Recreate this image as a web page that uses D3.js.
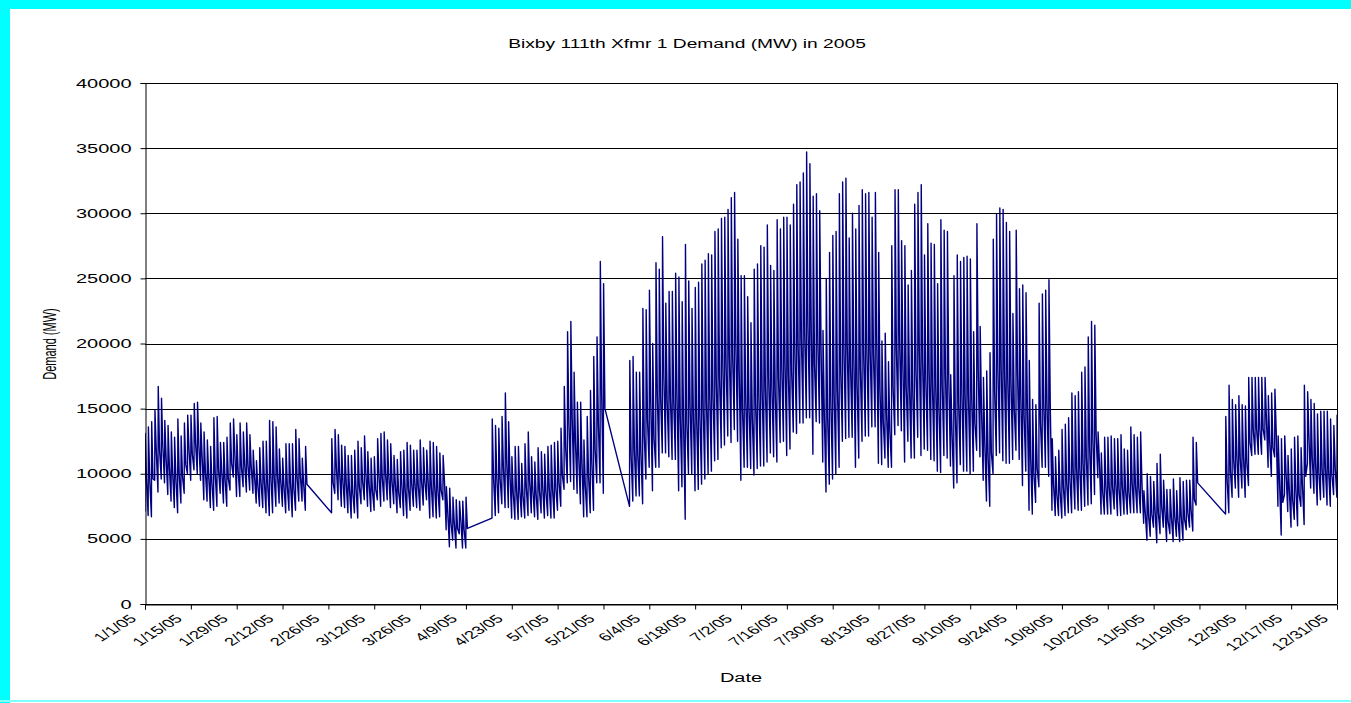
<!DOCTYPE html>
<html>
<head>
<meta charset="utf-8">
<script src="https://cdn.jsdelivr.net/npm/d3@7"></script>
<style>
  body { margin: 0; background: #fff; }
  svg text { font-family: "Liberation Sans", Arial, sans-serif; fill: #000; }
</style>
</head>
<body>
<div id="chart"></div>
<script>
// first day of each block of readings (the days between blocks are missing)
const segStart = ["2005-01-01", "2005-02-27", "2005-04-17", "2005-05-29", "2005-11-27"];

// daily peak demand (MW), one list per block
const dayHigh = [
  [13100,13600,14000,14900,16700,15800,14100,13700,13200,12800,14200,12900,13900,14500,14500,15400,15500,13900,13200,12600,
   12100,14300,14400,12400,12400,12800,13900,14200,13000,13900,13200,13900,13000,11800,11000,12000,12500,12500,14100,14000,
   13600,11900,11200,12300,12300,12300,13400,12700,11200,12100],
  [12700,13400,13000,12200,12100,11400,11400,11800,12500,12000,12900,11700,11200,11300,12700,13100,13200,12600,12300,11400,
   11100,11700,11800,12400,12200,11800,11800,12600,12000,11800,12500,12400,12100,11600,11400,9000,8900,8200,8000,7900,
   7900,8200],
  [14200,13700,13500,14400,16200,14000,11300,12100,12100,10800,12300,13200,11300,10900,12000,11700,11500,12100,12200,12400,
   12500,13500,16700,20900,21700,17800,15500,15500,12600,14400,16400,19000,20500,26300,24600],
  [18700,19000,17800,17800,22700,22600,24100,20000,26200,25700,28200,23100,24000,24000,25400,25100,23200,27600,24800,22700,
   24300,24700,26100,26400,26900,26800,28600,28800,29600,29700,30300,31200,31600,28000,25200,25200,23600,21600,25700,26100,
   27500,27400,29100,26000,25600,29500,28800,29700,29700,29100,30700,32200,32400,
   33100,34700,33800,31300,31500,30200,21000,25000,27000,28300,28600,31500,32400,32700,28100,30000,28800,30600,31800,31500,
   31600,29700,31600,27000,20200,20800,18600,27500,31800,31800,27900,27500,24500,25600,30700,31600,32200,26800,29200,27700,
   27600,24600,29500,28700,28600,17600,25200,26800,26300,26600,26700,26500,20900,29200,
   21300,17400,17900,19300,28000,29900,30400,30300,29300,28600,22300,28700,24200,24500,23900,18700,15700,15300,23100,23800,
   24100,24900,12700,11300,11800,13400,13800,14300,16200,16000,16300,17800,18200,20500,21700,21400,13200,11600,12800,12800,
   12900,12700,12700,13000,11900,11800,13600,13000,12800,13200,
   8700,10000,9800,9400,10800,11500,9500,8800,8800,9600,8700,9700,9400,9500,9500,12800,12400],
  [14400,16800,15700,15300,16000,15300,15200,17400,17400,17400,17400,17400,17400,16000,16200,16500,12900,12700,12900,11400,
   11900,12800,12900,12000,16800,16300,15700,15400,14600,14800,14800,14800,14200,13700,14500]
];

// daily overnight low (MW)
const dayLow = [
  [7100,6800,6700,9500,8600,9600,9300,8400,7900,7400,7000,7750,8500,10000,9500,10300,10000,9500,8000,7900,
   7400,7200,7500,8500,7750,7500,8750,9750,8250,8250,9000,8600,8750,8500,7750,7500,7400,7000,6800,7000,
   7500,7750,7500,7000,7200,6700,7200,7900,7900,7200],
  [7000,8500,8000,7500,7400,7000,6600,7000,6600,7700,8000,7500,7100,7200,8000,7500,7900,8000,7400,7700,
   7000,7400,6800,6600,7200,7500,7400,7200,7600,8000,6600,6700,6600,6700,8000,5700,4400,4900,4300,5400,
   4300,4300],
  [6600,6800,7000,7700,7400,7400,6600,6500,6500,6700,6600,6800,7000,6700,6500,7000,6600,6800,6600,6600,
   7200,7500,8800,9300,9400,8800,8500,7700,6700,6700,7000,7200,9300,9300,8500],
  [7500,7900,8300,8300,7700,9600,10500,8700,10500,10500,11600,11600,11300,11100,11100,8700,9000,6500,10000,10000,
   8700,8800,9200,9600,10000,10200,11000,11100,12000,12200,12900,12400,13400,12500,9500,10500,10500,10400,9900,10400,
   10600,10600,10900,11600,11300,10900,12400,12500,11400,11900,13200,13100,13900,
   13900,14300,14300,11500,14000,13900,10900,8600,9200,9600,10000,10500,12500,12700,12800,12800,10500,11200,12500,12900,
   12900,13600,13600,10800,10700,11200,10500,10500,13000,13700,13300,10900,12500,11200,11200,12800,11400,11900,11800,11100,
   11000,10200,10100,11400,11200,10600,8900,9300,10700,10200,10200,10000,10200,11800,
   11300,9500,7900,7500,10000,11400,11600,11000,10800,10800,11100,11800,11100,9100,10200,7200,6900,7800,9000,10500,
   10500,9800,7200,6800,6800,6600,6800,7000,7000,7300,7200,7200,7500,7600,7700,8400,9700,6900,6900,6900,
   6900,7300,6800,6800,6900,6900,7000,7000,7000,7000,
   6200,4900,5200,5900,4700,5400,5900,4800,5400,4800,5200,4800,4900,5700,5900,5600,7600],
  [6900,7000,8200,8900,8200,8900,8200,9100,11400,11500,11500,11500,12600,10500,9800,11300,7500,5300,8400,7100,
   5900,6500,6000,7500,6100,10800,8900,8500,7600,8000,8200,7600,7500,8400,8200]
];

// evening level after the peak (MW)
const dayEvening = [
  [9500,9500,9600,11700,11800,12100,11200,10500,10000,9600,9900,9800,10700,11800,11500,12300,12200,11300,10100,9800,
   9300,10000,10300,10100,9600,9600,10800,11500,10200,10500,10700,10700,10500,9800,9100,9300,9400,9200,9700,9800,
   9900,9400,9000,9100,9200,8900,9700,9800,9200,9200],
  [9300,10400,10000,9400,9300,8800,8500,8900,9000,9400,10000,9200,8700,8800,9900,9700,10000,9800,9400,9200,
   8600,9100,8800,8900,9200,9200,9100,9400,9400,9500,9000,9000,8800,8700,9400,7000,6200,6200,5800,6400,
   5700,5800],
  [9600,9600,9600,10400,10900,10000,8500,8700,8700,8300,8900,9400,8700,8400,8700,8900,8600,8900,8800,8900,
   9300,9900,12000,13900,14300,12400,11300,10800,9100,9800,10800,11900,13800,16100,15000],
  [11400,11800,11600,11600,13000,14100,15300,12700,16000,15900,17400,15600,15800,15600,16100,14400,14000,13900,15200,14500,
   14200,14400,15100,15500,15900,16000,17200,17300,18200,18400,19000,19000,19800,17900,15000,15600,15100,14300,15400,15900,
   16500,16500,17300,16600,16300,17400,18100,18500,17800,17900,19300,19800,20400,
   20700,21400,21100,18400,20100,19600,14500,14300,15400,16100,16500,17800,19500,19700,18200,18800,16900,18000,19200,19400,
   19400,19200,19900,16500,14000,14600,13300,16600,19600,20000,18400,16700,16700,16200,18000,19400,18700,17100,17900,16900,
   16800,15200,16900,17500,17300,13100,14600,15400,16200,15900,16000,15800,13900,17900,
   14800,12300,11400,11600,16300,17900,18200,17800,17300,17000,15000,17700,15700,14500,15000,11200,10000,10400,13900,15200,
   15300,15100,9100,8400,8600,9000,9300,9600,10200,10400,10400,10900,11300,12100,12600,13000,10900,8600,9000,9000,
   9000,9200,8900,9000,8700,8600,9300,9100,9000,9200,
   7000,6800,6900,7200,7000,7500,7200,6300,6600,6700,6400,6700,6500,7000,7200,8000,9300],
  [9500,10200,11000,11300,11200,11200,10900,12400,13300,13400,13400,13400,14200,12400,12000,13100,9400,7800,10000,8700,
   8000,8800,8400,9100,9800,12700,11200,10800,10100,10400,10500,10200,9900,10500,10400]
];

const yTicks = [0, 5000, 10000, 15000, 20000, 25000, 30000, 35000, 40000];

const width = 1351, height = 703;
const SX = 1.6;   // the source image is stretched sideways, text included
const plot = { left: 145, right: 1337, top: 83, bottom: 604 };
const DAY = 864e5;

const svg = d3.select('#chart').append('svg')
  .attr('width', width)
  .attr('height', height);

// cyan frame round the picture
svg.append('rect').attr('x', 0).attr('y', 0).attr('width', width).attr('height', 9).attr('fill', '#00ffff');
svg.append('rect').attr('x', 0).attr('y', 0).attr('width', 10).attr('height', height).attr('fill', '#00ffff');
svg.append('rect').attr('x', 0).attr('y', 700).attr('width', width).attr('height', 2).attr('fill', '#80ffff');

const x = d3.scaleUtc()
  .domain([Date.UTC(2005, 0, 1), Date.UTC(2005, 11, 31)])
  .range([plot.left, plot.right]);

const y = d3.scaleLinear()
  .domain([0, 40000])
  .range([plot.bottom, plot.top]);

// gridlines
svg.append('g')
  .selectAll('line')
  .data(yTicks)
  .enter().append('line')
  .attr('x1', plot.left).attr('x2', plot.right)
  .attr('y1', d => Math.round(y(d)) + 0.5).attr('y2', d => Math.round(y(d)) + 0.5)
  .attr('stroke', '#000')
  .attr('stroke-width', 1);

svg.append('line')
  .attr('x1', plot.right + 0.5).attr('x2', plot.right + 0.5)
  .attr('y1', plot.top).attr('y2', plot.bottom)
  .attr('stroke', '#000');

// series
const points = [];
segStart.forEach((s, k) => {
  const t0 = Date.parse(s + 'T00:00:00Z');
  dayHigh[k].forEach((h, i) => {
    const t = t0 + i * DAY;
    points.push([t - 0.04 * DAY, dayLow[k][i]]);
    points.push([t + 0.04 * DAY, h]);
    points.push([t + 0.45 * DAY, dayEvening[k][i]]);
  });
});

svg.append('clipPath').attr('id', 'clip')
  .append('rect')
  .attr('x', plot.left).attr('y', plot.top)
  .attr('width', plot.right - plot.left).attr('height', plot.bottom - plot.top);

const line = d3.line()
  .x(d => x(d[0]))
  .y(d => y(d[1]));

svg.append('path')
  .datum(points)
  .attr('clip-path', 'url(#clip)')
  .attr('fill', 'none')
  .attr('stroke', '#000080')
  .attr('stroke-width', 1.4)
  .attr('stroke-linejoin', 'round')
  .attr('d', line);

// y axis
const yAxis = svg.append('g')
  .attr('transform', `translate(${plot.left + 0.5},0)`)
  .call(d3.axisLeft(y).tickValues(yTicks).tickSize(5).tickPadding(3.75).tickFormat(d3.format('d')));
yAxis.select('.domain').attr('stroke', '#000');
yAxis.selectAll('line').attr('stroke', '#000');
yAxis.selectAll('text')
  .attr('font-size', '12.5px')
  .attr('font-family', null)
  .attr('transform', `scale(${SX},1)`);

// x axis, a tick every two weeks
const xTicks = d3.range(0, 27).map(i => new Date(Date.UTC(2005, 0, 1 + 14 * i)));
const xAxis = svg.append('g')
  .attr('transform', `translate(0,${plot.bottom + 0.5})`)
  .call(d3.axisBottom(x).tickValues(xTicks).tickSize(5).tickFormat(d3.utcFormat('%-m/%-d/%y')));
xAxis.select('.domain').attr('stroke', '#000');
xAxis.selectAll('line').attr('stroke', '#000');
xAxis.selectAll('text')
  .attr('font-size', '11.5px')
  .attr('font-family', null)
  .attr('x', 0).attr('y', 0).attr('dy', 0)
  .attr('text-anchor', 'end')
  .attr('transform', `translate(-8,15) scale(${SX},1) rotate(-45)`);

// titles
svg.append('text')
  .attr('transform', `translate(687,48) scale(${SX},1)`)
  .attr('text-anchor', 'middle')
  .attr('font-size', '12px')
  .text('Bixby 111th Xfmr 1 Demand (MW) in 2005');

svg.append('text')
  .attr('transform', `translate(741,682) scale(${SX},1)`)
  .attr('text-anchor', 'middle')
  .attr('font-size', '12.5px')
  .text('Date');

svg.append('text')
  .attr('transform', `translate(56,344) scale(${SX},1) rotate(-90)`)
  .attr('text-anchor', 'middle')
  .attr('font-size', '11px')
  .text('Demand (MW)');
</script>
</body>
</html>
